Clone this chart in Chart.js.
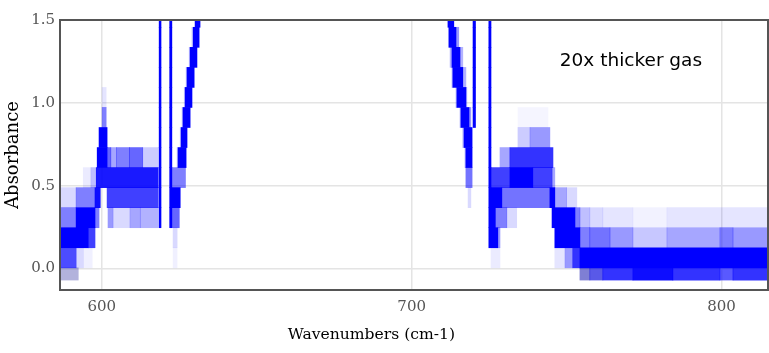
<!DOCTYPE html>
<html>
<head>
<meta charset="utf-8">
<script src="https://cdn.jsdelivr.net/npm/chart.js@4.4.0/dist/chart.umd.min.js"></script>
<style>
  html, body { margin: 0; padding: 0; background: #fff; }
  #wrap { width: 769px; height: 353px; }
</style>
</head>
<body>
<div id="wrap"><canvas id="chart" width="769" height="353"></canvas></div>
<script>
// Ejes
const xTicks = [600, 700, 800];
const yTicks = [0, 0.5, 1.0, 1.5];
const xRange = [586.5, 815];
const yRange = [-0.13, 1.5];

// Bordes de los intervalos de absorbancia (fila 0 = abajo)
const binEdges = [-0.070, 0.004, 0.125, 0.246, 0.367, 0.488, 0.609, 0.730, 0.851, 0.972, 1.093, 1.214, 1.335, 1.456, 1.577];

// Celdas por fila: [desde, hasta, intensidad, color base opcional]
const row0 = [[586.5, 592.4, 0.3, '0,0,139'], [754.3, 757.5, 0.5, '0,0,170'], [757.5, 761.7, 0.65, '0,0,220'],
  [761.7, 771.4, 0.8], [771.4, 784.3, 0.95], [784.3, 799.5, 0.8], [799.5, 803.7, 0.65], [803.7, 815, 0.8]];
const row1 = [[586.5, 591.7, 0.7], [591.7, 594.0, 0.15], [594.0, 596.9, 0.06], [623.0, 624.3, 0.06], [725.6, 728.5, 0.08],
  [746.2, 749.5, 0.1], [749.5, 752, 0.4], [752, 754.3, 0.8], [754.3, 815, 1]];
const row2 = [[586.5, 595.6, 1], [595.6, 597.8, 0.75], [623.0, 624.3, 0.15], [725.6, 727.8, 1], [727.8, 728.5, 0.4],
  [746.2, 754.3, 1], [754.3, 757.5, 0.5], [757.5, 764.0, 0.55], [764.0, 771.4, 0.4], [771.4, 782.4, 0.22],
  [782.4, 799.5, 0.35], [799.5, 803.7, 0.5], [803.7, 815, 0.4]];
const row3 = [[586.5, 591.7, 0.5], [591.7, 597.8, 1], [597.8, 599.1, 0.5], [602.0, 603.6, 0.4], [603.6, 609.1, 0.15],
  [609.1, 612.4, 0.35], [612.4, 618.2, 0.3], [622.7, 625.0, 0.6], [725.6, 727, 1], [727, 730.7, 0.5], [730.7, 733.9, 0.15],
  [745.3, 752.7, 1], [752.7, 754.3, 0.5], [754.3, 757.5, 0.25], [757.5, 761.7, 0.15], [761.7, 771.4, 0.1],
  [771.4, 782.4, 0.05], [782.4, 815, 0.1]];
const row4 = [[586.5, 591.7, 0.15], [591.7, 597.8, 0.5], [597.8, 599.5, 0.95], [601.7, 618.2, 0.75], [622.7, 625.3, 1],
  [718.2, 719.1, 0.15], [725.6, 729.1, 1], [729.1, 744.6, 0.55], [744.6, 746.2, 1], [746.2, 750, 0.35], [750, 753.3, 0.15]];
const row5 = [[594.0, 596.5, 0.08], [596.5, 598.2, 0.25], [598.2, 618.2, 0.9], [622.7, 627.0, 0.5], [717.5, 719.5, 0.55],
  [725.6, 731.7, 0.75], [731.7, 739.1, 1], [739.1, 745.3, 0.75], [745.3, 746.2, 0.35]];
const row6 = [[598.5, 601.7, 1], [601.7, 602.9, 0.6], [602.9, 604.7, 0.35], [604.7, 608.9, 0.5], [608.9, 613.2, 0.6],
  [613.2, 618.2, 0.2], [624.3, 624.6, 0.25], [624.6, 627.2, 1], [717.2, 717.5, 0.3], [717.5, 719.5, 1],
  [728.5, 731.7, 0.35], [731.7, 745.6, 0.8]];
const row7 = [[599.1, 601.7, 1], [625.3, 625.6, 0.25], [625.6, 627.5, 1], [716.5, 716.9, 0.3], [716.9, 719.5, 1],
  [734.3, 738.2, 0.2], [738.2, 744.6, 0.4]];
const row8 = [[600.1, 601.4, 0.5], [625.9, 626.2, 0.25], [626.2, 628.5, 1], [715.6, 715.9, 0.3], [715.9, 718.5, 1],
  [718.5, 719.1, 0.4], [734.3, 744.0, 0.04]];
const row9 = [[600.1, 601.4, 0.1], [626.6, 626.9, 0.25], [626.9, 629.1, 1], [714.3, 714.6, 0.3], [714.6, 717.5, 1],
  [717.5, 717.8, 0.3]];
const row10 = [[627.2, 627.5, 0.25], [627.5, 629.8, 1], [713.0, 713.3, 0.3], [713.3, 716.5, 1], [716.5, 717.5, 0.3]];
const row11 = [[628.2, 628.5, 0.25], [628.5, 630.7, 1], [712.4, 713.0, 0.3], [713.0, 715.6, 1], [715.6, 716.5, 0.3]];
const row12 = [[629.1, 629.5, 0.25], [629.5, 631.4, 1], [712.0, 714.3, 1], [714.3, 715.2, 0.4]];
const row13 = [[630.1, 631.7, 1], [711.7, 713.6, 1]];

// Lineas finas verticales: [desde, hasta, fila inicial, fila final]
const thinLines = [[618.5, 619.1, 3, 13], [621.9, 622.6, 3, 13], [719.8, 720.6, 8, 13], [724.9, 725.6, 2, 13]];

// Textos
const yTitle = 'Absorbance';
const xTitle = 'Wavenumbers (cm-1)';
const xTitleAt = 687;
const note = '20x thicker gas';
const noteAt = [747.8, 1.251];

const rows = [row0, row1, row2, row3, row4, row5, row6, row7, row8, row9, row10, row11, row12, row13];
const mid = b => (binEdges[b] + binEdges[b + 1]) / 2;
const rgba = (a, base) => `rgba(${base || '0,0,255'},${a})`;

// Construir celdas
const cells = [], cellColors = [];
rows.forEach((row, b) => {
  if (b === 0) return;
  row.forEach(([x0, x1, a, base]) => {
    cells.push({ x: [x0, x1], y: mid(b) });
    cellColors.push(rgba(a, base));
  });
});
thinLines.forEach(([x0, x1, lo, hi]) => {
  for (let b = lo; b <= hi; b++) {
    cells.push({ x: [x0, x1], y: mid(b) });
    cellColors.push(rgba(1));
  }
});
const bottomCells = row0.map(([x0, x1]) => ({ x: [x0, x1], y: mid(0) }));
const bottomColors = row0.map(([, , a, base]) => rgba(a, base));

const tickFont = { family: 'DejaVu Serif', size: 15 };

// Marco, nota y titulo del eje x
const extras = {
  id: 'extras',
  afterDraw(chart) {
    const { ctx, chartArea: a, scales } = chart;
    ctx.save();
    ctx.strokeStyle = '#555';
    ctx.lineWidth = 2;
    ctx.strokeRect(a.left, a.top, a.right - a.left, a.bottom - a.top);
    ctx.fillStyle = '#000';
    ctx.textBaseline = 'middle';
    ctx.textAlign = 'left';
    ctx.font = '18.5px "DejaVu Sans"';
    ctx.fillText(note, scales.x.getPixelForValue(noteAt[0]), scales.y.getPixelForValue(noteAt[1]));
    ctx.textAlign = 'center';
    ctx.font = '15.6px "DejaVu Serif"';
    ctx.fillText(xTitle, scales.x.getPixelForValue(xTitleAt), a.bottom + 45);
    ctx.restore();
  }
};

new Chart(document.getElementById('chart'), {
  type: 'bar',
  data: {
    datasets: [
      { data: cells, backgroundColor: cellColors, yAxisID: 'y', barPercentage: 1, categoryPercentage: 1, grouped: false },
      { data: bottomCells, backgroundColor: bottomColors, yAxisID: 'yb', barPercentage: 1, categoryPercentage: 1, grouped: false }
    ]
  },
  options: {
    indexAxis: 'y',
    responsive: false,
    animation: false,
    layout: { padding: { top: 20, right: 1, left: 0, bottom: 0 } },
    plugins: { legend: { display: false }, tooltip: { enabled: false } },
    scales: {
      x: {
        type: 'linear', position: 'bottom', min: xRange[0], max: xRange[1], offset: false,
        afterBuildTicks: s => { s.ticks = xTicks.map(v => ({ value: v })); },
        afterFit: s => { s.height = 63; },
        grid: { color: '#e4e4e4', lineWidth: 1.5, drawTicks: false, offset: false },
        border: { display: false },
        ticks: { font: tickFont, color: '#555', padding: 8 }
      },
      y: {
        type: 'linear', position: 'left', min: yRange[0], max: yRange[1], offset: false,
        afterBuildTicks: s => { s.ticks = yTicks.map(v => ({ value: v })); },
        afterFit: s => { s.width = 60; },
        grid: { color: '#e4e4e4', lineWidth: 1.5, drawTicks: false, offset: false },
        border: { display: false },
        ticks: { font: tickFont, color: '#555', padding: 5, callback: v => v.toFixed(1) },
        title: { display: true, text: yTitle, color: '#000', font: { family: 'DejaVu Serif', size: 18 }, padding: { top: 3, bottom: 0 } }
      },
      yb: {
        type: 'linear', position: 'left', display: false, min: yRange[0], max: yRange[1], offset: false,
        afterBuildTicks: s => { s.ticks = [binEdges[0], binEdges[1]].map(v => ({ value: v })); }
      }
    }
  },
  plugins: [extras]
});
</script>
</body>
</html>
